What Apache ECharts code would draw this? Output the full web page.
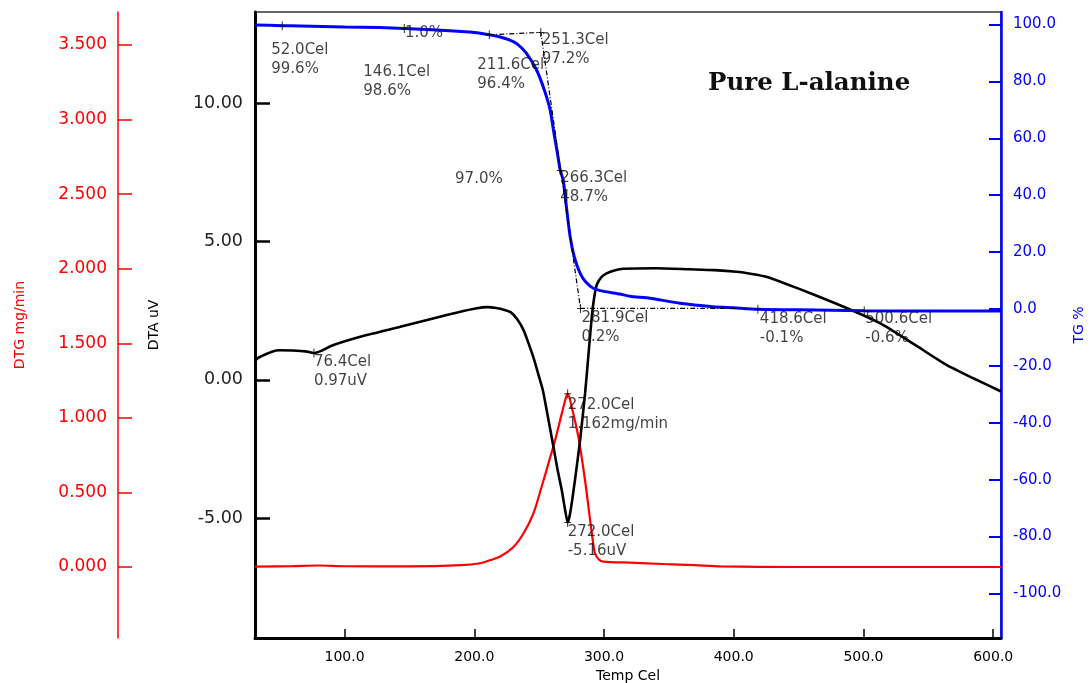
<!DOCTYPE html>
<html>
<head>
<meta charset="utf-8">
<title>Pure L-alanine – TG / DTA / DTG</title>
<script src="https://cdn.jsdelivr.net/npm/echarts@6/dist/echarts.min.js"></script>
<style>
  html, body { margin: 0; padding: 0; background: #ffffff; overflow: hidden; }
  #chart { width: 1091px; height: 683px; }
</style>
</head>
<body>
<div id="chart"></div>
<script>
// ---- axis ticks ----
const tempTicks = [100, 200, 300, 400, 500, 600];
const dtaTicks = [-5, 0, 5, 10];
const dtgTicks = [0, 0.5, 1, 1.5, 2, 2.5, 3, 3.5];
const tgTicks = [-100, -80, -60, -40, -20, 0, 20, 40, 60, 80, 100];

// ---- TG curve: [temperature °C, mass %] ----
const tgCurve = [
  [31, 99.8], [52.0, 99.6], [66, 99.5], [100, 99.1], [127, 98.9], [146.1, 98.6],
  [181, 97.8], [200, 97.2], [211.6, 96.4], [220, 95.6], [227, 94.6], [233, 93.2],
  [240, 90.0], [248, 84.0], [254, 77.0], [258.5, 70.0], [261, 63.0], [264, 55.0],
  [266.3, 48.7], [268.7, 45.0], [271, 36.0], [273.9, 25.4], [277, 18.5],
  [281.6, 12.5], [286, 9.5], [291.8, 7.3], [300, 6.2], [312, 5.3], [320, 4.5],
  [335.5, 3.8], [358.6, 2.0], [384, 0.8], [400, 0.4], [418.6, -0.1], [450, -0.3],
  [500.6, -0.6], [550, -0.7], [606, -0.7]
];

// ---- DTA curve: [temperature °C, uV] ----
const dtaCurve = [
  [31, 0.66], [33, 0.78], [38, 0.90], [44, 1.02], [50, 1.07], [60, 1.06], [70, 1.03],
  [76.4, 0.97], [82, 1.05], [91.5, 1.26], [117, 1.62], [143, 1.92], [169, 2.23],
  [187, 2.44], [202, 2.59], [210, 2.63], [217, 2.60], [224, 2.52], [228, 2.45],
  [233, 2.20], [238, 1.80], [242, 1.30], [246, 0.75], [250, 0.10], [253, -0.40],
  [257, -1.40], [261, -2.41], [264, -3.20], [267.5, -4.00], [270, -4.70],
  [272.0, -5.16], [274, -4.80], [277.7, -3.60], [281.6, -2.17], [285.4, -0.50],
  [288, 0.90], [290.6, 2.29], [292.5, 3.00], [294.5, 3.45], [298, 3.72], [302, 3.85],
  [308, 3.96], [315, 4.02], [340, 4.04], [366, 4.00], [385, 3.97], [402, 3.91],
  [414, 3.83], [425, 3.73], [440, 3.48], [461, 3.10], [487, 2.60], [512.7, 2.05],
  [538.6, 1.30], [564, 0.54], [585, 0.05], [606, -0.42]
];

// ---- DTG curve: [temperature °C, mg/min] ----
const dtgCurve = [
  [31, 0.002], [60, 0.006], [80, 0.010], [100, 0.005], [150, 0.004], [190, 0.012],
  [204.5, 0.025], [212, 0.045], [220, 0.070], [230.4, 0.136], [238, 0.226],
  [245.6, 0.360], [252, 0.540], [257.2, 0.695], [262.3, 0.850], [267.5, 1.030],
  [270.8, 1.140], [272.0, 1.162], [275.2, 1.070], [280.3, 0.870], [285.4, 0.580],
  [289.3, 0.315], [291.5, 0.170], [293.1, 0.092], [296, 0.050], [299.5, 0.036],
  [320, 0.029], [345.8, 0.020], [370, 0.012], [390, 0.004], [450, 0.000],
  [606, 0.000]
];

// ---- analysis points ----
const tgPoints = [
  [52.0, 99.6], [146.1, 98.6], [211.6, 96.4], [251.3, 97.2],
  [266.3, 48.7], [281.9, 0.2], [418.6, -0.1], [500.6, -0.6]
];
const dtaPoints = [[76.4, 0.97], [272.0, -5.16]];
const dtgPoints = [[272.0, 1.162]];
// tangent construction of the main mass-loss step
const tgTangent = [[211.6, 96.4], [251.3, 97.2], [281.9, 0.2], [405, 0.2]];
// mass-loss steps between pairs of tgPoints (indices)
const tgLossSteps = [[0, 1], [3, 5]];

// ---- label layout (pixel offsets from each point, and anchors for step labels) ----
const tgLabelOffsets = [[-11, 15], [-41, 34], [-12, 21], [1, -2], [0, -2], [1, 0], [2, 0], [1, -1]];
const dtaLabelOffsets = [[0, 0], [0, 0]];
const dtgLabelOffsets = [[0, 2]];
const lossLabelAnchors = [[146.6, 100.2], [185.2, 49.1]];

const FONT = 'DejaVu Sans';
const RED = '#ff0000';
const BLUE = '#0000ff';
const BLACK = '#000000';

const plusSymbol = 'path://M3,0h1v9h-1z M0,4h7v1h-7z';

function pointSeries(points, yIndex, offsets, fmt) {
  return {
    type: 'scatter',
    yAxisIndex: yIndex,
    symbol: plusSymbol,
    symbolSize: [7, 9],
    itemStyle: { color: BLACK },
    silent: true,
    z: 10,
    data: points.map((p, i) => ({
      value: p,
      label: { offset: offsets[i] }
    })),
    label: {
      show: true,
      position: 'inside',
      align: 'left',
      verticalAlign: 'top',
      color: '#111',
      fontFamily: FONT,
      fontSize: 15,
      lineHeight: 19,
      formatter: p => fmt(p.value)
    }
  };
}

const lossSeries = {
  type: 'scatter',
  yAxisIndex: 2,
  symbolSize: 0,
  silent: true,
  z: 10,
  data: tgLossSteps.map((s, i) => ({
    value: lossLabelAnchors[i],
    name: (tgPoints[s[0]][1] - tgPoints[s[1]][1]).toFixed(1) + '%'
  })),
  label: {
    show: true,
    position: 'inside',
    align: 'left',
    verticalAlign: 'top',
    color: '#111',
    fontFamily: FONT,
    fontSize: 15,
    lineHeight: 19,
    formatter: p => p.name
  }
};

const axisName = (color) => ({ color: color, fontFamily: FONT, fontSize: 14 });

const option = {
  animation: false,
  backgroundColor: '#ffffff',
  title: {
    text: 'Pure L-alanine',
    left: 703,
    top: 66,
    textStyle: { fontFamily: 'DejaVu Serif', fontWeight: 'bold', fontSize: 24.5, color: '#111' }
  },
  grid: {
    left: 255, right: 90, top: 12, bottom: 45,
    outerBoundsMode: 'none',
    containLabel: false,
    show: true, borderColor: '#333', borderWidth: 1.5, backgroundColor: 'transparent'
  },
  xAxis: {
    type: 'value',
    min: 31, max: 606,
    position: 'bottom',
    name: 'Temp Cel',
    nameLocation: 'middle',
    nameGap: 30,
    nameTextStyle: axisName(BLACK),
    axisLine: { show: true, onZero: false, lineStyle: { color: BLACK, width: 3 } },
    axisTick: { show: true, inside: true, length: 9, customValues: tempTicks, lineStyle: { color: BLACK, width: 1.5 } },
    axisLabel: { customValues: tempTicks, formatter: v => v.toFixed(1), color: BLACK, fontFamily: FONT, fontSize: 14, margin: 12 },
    splitLine: { show: false }
  },
  yAxis: [
    {
      // DTA
      type: 'value',
      min: -9.34, max: 13.31,
      position: 'left',
      name: 'DTA uV',
      nameLocation: 'middle',
      nameRotate: 90,
      nameGap: 94,
      nameTextStyle: axisName(BLACK),
      axisLine: { show: true, onZero: false, lineStyle: { color: BLACK, width: 3 } },
      axisTick: { show: true, inside: true, length: 15, customValues: dtaTicks, lineStyle: { color: BLACK, width: 2.5 } },
      axisLabel: { customValues: dtaTicks, formatter: v => v.toFixed(2), color: '#222', fontFamily: FONT, fontSize: 17.5, margin: 12 },
      splitLine: { show: false }
    },
    {
      // DTG
      type: 'value',
      min: -0.476, max: 3.721,
      position: 'left',
      offset: 137,
      name: 'DTG mg/min',
      nameLocation: 'middle',
      nameRotate: 90,
      nameGap: 91,
      nameTextStyle: axisName(RED),
      axisLine: { show: true, onZero: false, lineStyle: { color: RED, width: 1.5 } },
      axisTick: { show: true, inside: true, length: 14, customValues: dtgTicks, lineStyle: { color: RED, width: 1.5 } },
      axisLabel: { customValues: dtgTicks, formatter: v => v.toFixed(3), color: RED, fontFamily: FONT, fontSize: 17, margin: 11 },
      splitLine: { show: false }
    },
    {
      // TG
      type: 'value',
      min: -115.64, max: 104.39,
      position: 'right',
      name: 'TG %',
      nameLocation: 'middle',
      nameRotate: 90,
      nameGap: 70,
      nameTextStyle: axisName(BLUE),
      axisLine: { show: true, onZero: false, lineStyle: { color: BLUE, width: 2.5 } },
      axisTick: { show: true, inside: true, length: 12, customValues: tgTicks, lineStyle: { color: BLUE, width: 2 } },
      axisLabel: { customValues: tgTicks, formatter: v => v.toFixed(1), color: BLUE, fontFamily: FONT, fontSize: 15, margin: 12 },
      splitLine: { show: false }
    }
  ],
  series: [
    {
      name: 'DTG', type: 'line', yAxisIndex: 1, data: dtgCurve,
      showSymbol: false, smooth: 0.3, silent: true,
      lineStyle: { color: RED, width: 2.2 }, z: 3
    },
    {
      name: 'DTA', type: 'line', yAxisIndex: 0, data: dtaCurve,
      showSymbol: false, smooth: 0.2, silent: true,
      lineStyle: { color: BLACK, width: 2.6 }, z: 4
    },
    {
      name: 'TG', type: 'line', yAxisIndex: 2, data: tgCurve,
      showSymbol: false, smooth: 0.2, silent: true,
      lineStyle: { color: BLUE, width: 3 }, z: 5
    },
    {
      name: 'TG tangent', type: 'line', yAxisIndex: 2, data: tgTangent,
      showSymbol: false, silent: true,
      lineStyle: { color: '#000', width: 1.2, type: [5, 2, 1, 2] }, z: 6
    },
    pointSeries(tgPoints, 2, tgLabelOffsets, v => v[0].toFixed(1) + 'Cel\n' + v[1].toFixed(1) + '%'),
    pointSeries(dtaPoints, 0, dtaLabelOffsets, v => v[0].toFixed(1) + 'Cel\n' + v[1].toFixed(2) + 'uV'),
    pointSeries(dtgPoints, 1, dtgLabelOffsets, v => v[0].toFixed(1) + 'Cel\n' + v[1].toFixed(3) + 'mg/min'),
    lossSeries
  ]
};

const chart = echarts.init(document.getElementById('chart'), null, { renderer: 'canvas' });
chart.setOption(option);
</script>
</body>
</html>
